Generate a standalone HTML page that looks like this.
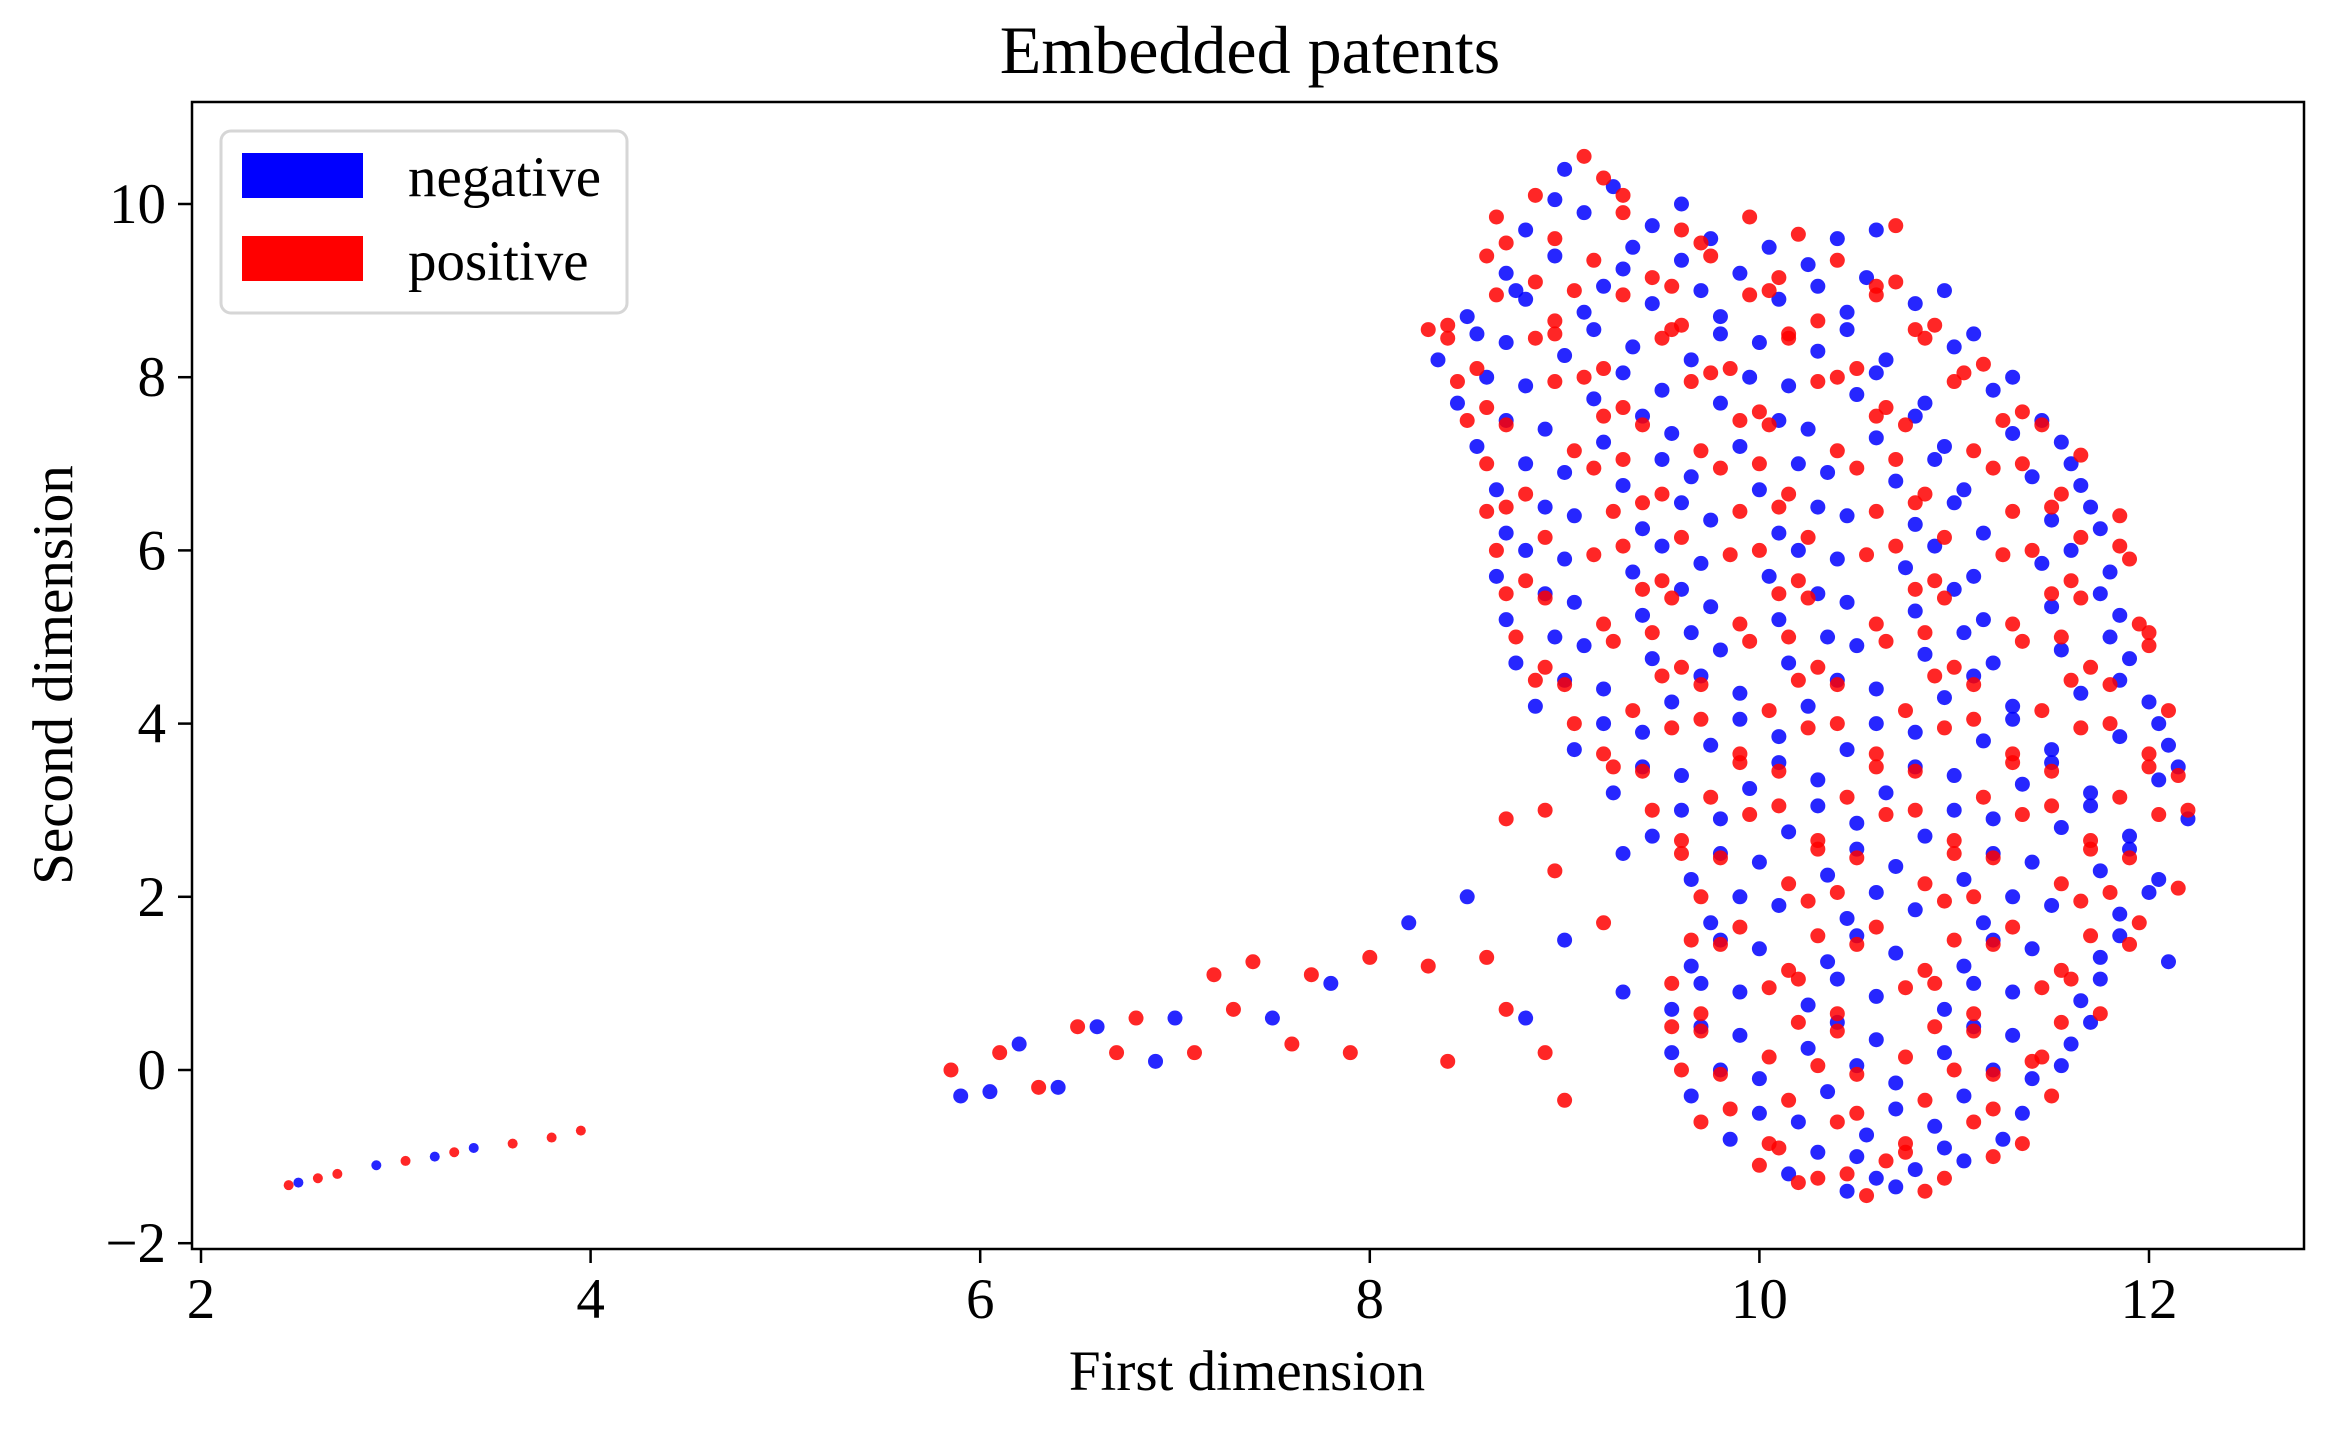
<!DOCTYPE html>
<html><head><meta charset="utf-8"><style>
html,body{margin:0;padding:0;background:#fff;}
svg{display:block;font-family:"Liberation Serif","DejaVu Serif",serif;}
</style></head><body>
<svg id="chart" width="2334" height="1433" viewBox="0 0 2334 1433">
<rect x="0" y="0" width="2334" height="1433" fill="#fff"/>
<text x="1250" y="73" font-size="68" text-anchor="middle">Embedded patents</text>
<g id="points"></g>
<rect x="192" y="102" width="2112" height="1147" fill="none" stroke="#000" stroke-width="2.5"/>
<g id="xticks"></g>
<g id="yticks"></g>
<text x="1247" y="1390" font-size="57" text-anchor="middle">First dimension</text>
<text x="0" y="0" font-size="57" text-anchor="middle" transform="translate(72,675) rotate(-90)">Second dimension</text>
<g>
<rect x="221" y="131" width="406" height="182" rx="10" fill="#fff" fill-opacity="0.8" stroke="#d6d6d6" stroke-width="3"/>
<rect x="242" y="153" width="121" height="45" fill="#0000ff"/>
<text x="408" y="196" font-size="57">negative</text>
<rect x="242" y="236" width="121" height="45" fill="#ff0000"/>
<text x="408" y="280" font-size="57">positive</text>
</g>
</svg>
<script>
const xTicks=[2,4,6,8,10,12];
const yTicks=[-2,0,2,4,6,8,10];
const negPts=[[9.0,10.4],[9.25,10.2],[8.8,9.7],[9.1,9.9],[9.45,9.75],[9.75,9.6],[10.6,9.7],
[8.7,9.2],[8.95,9.4],[9.3,9.25],[9.6,9.35],[9.9,9.2],[10.25,9.3],[10.55,9.15],
[8.5,8.7],[8.8,8.9],[9.1,8.75],[9.45,8.85],[9.8,8.7],[10.1,8.9],[10.45,8.75],[10.8,8.85],
[8.35,8.2],[8.7,8.4],[9.0,8.25],[9.35,8.35],[9.65,8.2],[10.0,8.4],[10.3,8.3],[10.65,8.2],[11.0,8.35],
[8.45,7.7],[8.8,7.9],[9.15,7.75],[9.5,7.85],[9.8,7.7],[10.15,7.9],[10.5,7.8],[10.85,7.7],[11.2,7.85],
[8.55,7.2],[8.9,7.4],[9.2,7.25],[9.55,7.35],[9.9,7.2],[10.25,7.4],[10.6,7.3],[10.95,7.2],[11.3,7.35],[11.55,7.25],
[8.65,6.7],[9.0,6.9],[9.3,6.75],[9.65,6.85],[10.0,6.7],[10.35,6.9],[10.7,6.8],[11.05,6.7],[11.4,6.85],[11.65,6.75],
[8.7,6.2],[9.05,6.4],[9.4,6.25],[9.75,6.35],[10.1,6.2],[10.45,6.4],[10.8,6.3],[11.15,6.2],[11.5,6.35],[11.75,6.25],
[8.65,5.7],[9.0,5.9],[9.35,5.75],[9.7,5.85],[10.05,5.7],[10.4,5.9],[10.75,5.8],[11.1,5.7],[11.45,5.85],[11.8,5.75],
[8.7,5.2],[9.05,5.4],[9.4,5.25],[9.75,5.35],[10.1,5.2],[10.45,5.4],[10.8,5.3],[11.15,5.2],[11.5,5.35],[11.85,5.25],
[8.75,4.7],[9.1,4.9],[9.45,4.75],[9.8,4.85],[10.15,4.7],[10.5,4.9],[10.85,4.8],[11.2,4.7],[11.55,4.85],[11.9,4.75],
[8.85,4.2],[9.2,4.4],[9.55,4.25],[9.9,4.35],[10.25,4.2],[10.6,4.4],[10.95,4.3],[11.3,4.2],[11.65,4.35],[12.0,4.25],
[9.05,3.7],[9.4,3.9],[9.75,3.75],[10.1,3.85],[10.45,3.7],[10.8,3.9],[11.15,3.8],[11.5,3.7],[11.85,3.85],[12.1,3.75],
[9.25,3.2],[9.6,3.4],[9.95,3.25],[10.3,3.35],[10.65,3.2],[11.0,3.4],[11.35,3.3],[11.7,3.2],[12.05,3.35],
[9.45,2.7],[9.8,2.9],[10.15,2.75],[10.5,2.85],[10.85,2.7],[11.2,2.9],[11.55,2.8],[11.9,2.7],[12.2,2.9],
[9.65,2.2],[10.0,2.4],[10.35,2.25],[10.7,2.35],[11.05,2.2],[11.4,2.4],[11.75,2.3],[12.05,2.2],
[9.75,1.7],[10.1,1.9],[10.45,1.75],[10.8,1.85],[11.15,1.7],[11.5,1.9],[11.85,1.8],
[9.65,1.2],[10.0,1.4],[10.35,1.25],[10.7,1.35],[11.05,1.2],[11.4,1.4],[11.75,1.3],[12.1,1.25],
[9.55,0.7],[9.9,0.9],[10.25,0.75],[10.6,0.85],[10.95,0.7],[11.3,0.9],[11.65,0.8],
[9.55,0.2],[9.9,0.4],[10.25,0.25],[10.6,0.35],[10.95,0.2],[11.3,0.4],[11.6,0.3],
[9.65,-0.3],[10.0,-0.1],[10.35,-0.25],[10.7,-0.15],[11.05,-0.3],[11.4,-0.1],
[9.85,-0.8],[10.2,-0.6],[10.55,-0.75],[10.9,-0.65],[11.25,-0.8],
[10.15,-1.2],[10.5,-1.0],[10.8,-1.15],[11.05,-1.05],[10.45,-1.4],[10.7,-1.35],
[8.95,10.05],[9.6,10.0],[9.35,9.5],[10.05,9.5],[10.4,9.6],[8.75,9.0],[9.2,9.05],[9.7,9.0],[10.3,9.05],[10.95,9.0],[8.55,8.5],[9.15,8.55],[9.8,8.5],[10.45,8.55],[11.1,8.5],[8.6,8.0],[9.3,8.05],[9.95,8.0],[10.6,8.05],[11.3,8.0],[8.7,7.5],[9.4,7.55],[10.1,7.5],[10.8,7.55],[11.45,7.5],[8.8,7.0],[9.5,7.05],[10.2,7.0],[10.9,7.05],[11.6,7.0],[8.9,6.5],[9.6,6.55],[10.3,6.5],[11.0,6.55],[11.7,6.5],[8.8,6.0],[9.5,6.05],[10.2,6.0],[10.9,6.05],[11.6,6.0],[8.9,5.5],[9.6,5.55],[10.3,5.5],[11.0,5.55],[11.75,5.5],[8.95,5.0],[9.65,5.05],[10.35,5.0],[11.05,5.05],[11.8,5.0],[9.0,4.5],[9.7,4.55],[10.4,4.5],[11.1,4.55],[11.85,4.5],[9.2,4.0],[9.9,4.05],[10.6,4.0],[11.3,4.05],[12.05,4.0],[9.4,3.5],[10.1,3.55],[10.8,3.5],[11.5,3.55],[12.15,3.5],[9.6,3.0],[10.3,3.05],[11.0,3.0],[11.7,3.05],[9.8,2.5],[10.5,2.55],[11.2,2.5],[11.9,2.55],[9.9,2.0],[10.6,2.05],[11.3,2.0],[12.0,2.05],[9.8,1.5],[10.5,1.55],[11.2,1.5],[11.85,1.55],[9.7,1.0],[10.4,1.05],[11.1,1.0],[11.75,1.05],[9.7,0.5],[10.4,0.55],[11.1,0.5],[11.7,0.55],[9.8,0.0],[10.5,0.05],[11.2,0.0],[11.55,0.05],[10.0,-0.5],[10.7,-0.45],[11.35,-0.5],[10.3,-0.95],[10.95,-0.9],[10.6,-1.25],
[9.3,2.5],[8.5,2.0],[8.2,1.7],[7.8,1.0],[7.5,0.6],[7.0,0.6],[6.6,0.5],[6.2,0.3],[5.9,-0.3],[6.05,-0.25],[6.4,-0.2],[6.9,0.1],[9.0,1.5],[8.8,0.6],[9.3,0.9],
[2.5,-1.3],[2.9,-1.1],[3.2,-1.0],[3.4,-0.9]];
const posPts=[[9.1,10.55],[9.2,10.3],[8.85,10.1],
[8.65,9.85],[8.95,9.6],[9.3,9.9],[9.6,9.7],[9.95,9.85],[10.7,9.75],
[8.6,9.4],[8.85,9.1],[9.15,9.35],[9.45,9.15],[9.75,9.4],[10.1,9.15],[10.4,9.35],[10.7,9.1],
[8.4,8.6],[8.65,8.95],[8.95,8.65],[9.3,8.95],[9.6,8.6],[9.95,8.95],[10.3,8.65],[10.6,8.95],[10.9,8.6],
[8.3,8.55],[8.55,8.1],[8.85,8.45],[9.2,8.1],[9.5,8.45],[9.85,8.1],[10.15,8.45],[10.5,8.1],[10.85,8.45],[11.15,8.15],
[8.6,7.65],[8.95,7.95],[9.3,7.65],[9.65,7.95],[10.0,7.6],[10.3,7.95],[10.65,7.65],[11.0,7.95],[11.35,7.6],
[8.7,7.45],[9.05,7.15],[9.4,7.45],[9.7,7.15],[10.05,7.45],[10.4,7.15],[10.75,7.45],[11.1,7.15],[11.45,7.45],[11.65,7.1],
[8.8,6.65],[9.15,6.95],[9.5,6.65],[9.8,6.95],[10.15,6.65],[10.5,6.95],[10.85,6.65],[11.2,6.95],[11.55,6.65],
[8.6,6.45],[8.9,6.15],[9.25,6.45],[9.6,6.15],[9.9,6.45],[10.25,6.15],[10.6,6.45],[10.95,6.15],[11.3,6.45],[11.65,6.15],[11.85,6.4],
[8.8,5.65],[9.15,5.95],[9.5,5.65],[9.85,5.95],[10.2,5.65],[10.55,5.95],[10.9,5.65],[11.25,5.95],[11.6,5.65],[11.9,5.9],
[8.9,5.45],[9.2,5.15],[9.55,5.45],[9.9,5.15],[10.25,5.45],[10.6,5.15],[10.95,5.45],[11.3,5.15],[11.65,5.45],[11.95,5.15],
[8.9,4.65],[9.25,4.95],[9.6,4.65],[9.95,4.95],[10.3,4.65],[10.65,4.95],[11.0,4.65],[11.35,4.95],[11.7,4.65],[12.0,4.9],
[9.0,4.45],[9.35,4.15],[9.7,4.45],[10.05,4.15],[10.4,4.45],[10.75,4.15],[11.1,4.45],[11.45,4.15],[11.8,4.45],[12.1,4.15],
[9.2,3.65],[9.55,3.95],[9.9,3.65],[10.25,3.95],[10.6,3.65],[10.95,3.95],[11.3,3.65],[11.65,3.95],[12.0,3.65],
[9.4,3.45],[9.75,3.15],[10.1,3.45],[10.45,3.15],[10.8,3.45],[11.15,3.15],[11.5,3.45],[11.85,3.15],[12.15,3.4],
[9.6,2.65],[9.95,2.95],[10.3,2.65],[10.65,2.95],[11.0,2.65],[11.35,2.95],[11.7,2.65],[12.05,2.95],
[9.8,2.45],[10.15,2.15],[10.5,2.45],[10.85,2.15],[11.2,2.45],[11.55,2.15],[11.9,2.45],[12.15,2.1],
[9.9,1.65],[10.25,1.95],[10.6,1.65],[10.95,1.95],[11.3,1.65],[11.65,1.95],[11.95,1.7],
[9.8,1.45],[10.15,1.15],[10.5,1.45],[10.85,1.15],[11.2,1.45],[11.55,1.15],[11.9,1.45],
[9.7,0.65],[10.05,0.95],[10.4,0.65],[10.75,0.95],[11.1,0.65],[11.45,0.95],[11.75,0.65],
[9.7,0.45],[10.05,0.15],[10.4,0.45],[10.75,0.15],[11.1,0.45],[11.45,0.15],
[9.8,-0.05],[10.15,-0.35],[10.5,-0.05],[10.85,-0.35],[11.2,-0.05],[11.5,-0.3],
[9.7,-0.6],[10.05,-0.85],[10.4,-0.6],[10.75,-0.85],[11.1,-0.6],[11.35,-0.85],
[10.0,-1.1],[10.3,-1.25],[10.65,-1.05],[10.95,-1.25],[10.55,-1.45],[10.85,-1.4],[10.2,-1.3],
[9.3,10.1],[8.7,9.55],[9.7,9.55],[10.2,9.65],[9.05,9.0],[9.55,9.05],[10.05,9.0],[10.6,9.05],[8.4,8.45],[8.95,8.5],[9.55,8.55],[10.15,8.5],[10.8,8.55],[8.45,7.95],[9.1,8.0],[9.75,8.05],[10.4,8.0],[11.05,8.05],[8.5,7.5],[9.2,7.55],[9.9,7.5],[10.6,7.55],[11.25,7.5],[8.6,7.0],[9.3,7.05],[10.0,7.0],[10.7,7.05],[11.35,7.0],[8.7,6.5],[9.4,6.55],[10.1,6.5],[10.8,6.55],[11.5,6.5],[8.65,6.0],[9.3,6.05],[10.0,6.0],[10.7,6.05],[11.4,6.0],[11.85,6.05],[8.7,5.5],[9.4,5.55],[10.1,5.5],[10.8,5.55],[11.5,5.5],[8.75,5.0],[9.45,5.05],[10.15,5.0],[10.85,5.05],[11.55,5.0],[12.0,5.05],[8.85,4.5],[9.5,4.55],[10.2,4.5],[10.9,4.55],[11.6,4.5],[9.05,4.0],[9.7,4.05],[10.4,4.0],[11.1,4.05],[11.8,4.0],[9.25,3.5],[9.9,3.55],[10.6,3.5],[11.3,3.55],[12.0,3.5],[9.45,3.0],[10.1,3.05],[10.8,3.0],[11.5,3.05],[12.2,3.0],[9.6,2.5],[10.3,2.55],[11.0,2.5],[11.7,2.55],[9.7,2.0],[10.4,2.05],[11.1,2.0],[11.8,2.05],[9.65,1.5],[10.3,1.55],[11.0,1.5],[11.7,1.55],[9.55,1.0],[10.2,1.05],[10.9,1.0],[11.6,1.05],[9.55,0.5],[10.2,0.55],[10.9,0.5],[11.55,0.55],[9.6,0.0],[10.3,0.05],[11.0,0.0],[11.4,0.1],[9.85,-0.45],[10.5,-0.5],[11.2,-0.45],[10.1,-0.9],[10.75,-0.95],[11.2,-1.0],[10.45,-1.2],
[8.7,2.9],[8.9,3.0],[8.95,2.3],[9.2,1.7],[8.6,1.3],[8.3,1.2],[8.0,1.3],[7.7,1.1],[7.4,1.25],[7.2,1.1],[7.6,0.3],[7.9,0.2],[8.4,0.1],[8.9,0.2],[7.3,0.7],[6.8,0.6],[6.5,0.5],[6.1,0.2],[5.85,0.0],[6.3,-0.2],[6.7,0.2],[9.0,-0.35],[8.7,0.7],[7.1,0.2],
[2.45,-1.33],[2.6,-1.25],[2.7,-1.2],[3.05,-1.05],[3.3,-0.95],[3.6,-0.85],[3.8,-0.78],[3.95,-0.7]];
const NS='http://www.w3.org/2000/svg';
function sx(v){return 201+(v-2)*194.8;}
function sy(v){return 1070-v*86.6;}
const pts=document.getElementById('points');
function drawSeries(arr,color,name,r){
  const g=document.createElementNS(NS,'g');
  
  
  for(const p of arr){
    const c=document.createElementNS(NS,'circle');
    const inLine=p[0]<4.5;
    c.setAttribute('cx',sx(p[0]));c.setAttribute('cy',sy(p[1]));c.setAttribute('r',inLine?5:r);
    c.setAttribute('fill',color);c.setAttribute('fill-opacity','0.85');
    
    
    g.appendChild(c);
  }
  pts.appendChild(g);
}
drawSeries(negPts,'#0000ff','negative-series',7.5);
drawSeries(posPts,'#ff0000','positive-series',7.5);
const xg=document.getElementById('xticks');
for(const t of xTicks){
  const l=document.createElementNS(NS,'line');
  l.setAttribute('x1',sx(t));l.setAttribute('x2',sx(t));l.setAttribute('y1',1249);l.setAttribute('y2',1263);
  l.setAttribute('stroke','#000');l.setAttribute('stroke-width','2.5');
  
  
  xg.appendChild(l);
  const tx=document.createElementNS(NS,'text');
  tx.setAttribute('x',sx(t));tx.setAttribute('y',1318);tx.setAttribute('font-size','57');tx.setAttribute('text-anchor','middle');
  tx.textContent=String(t);
  
  
  xg.appendChild(tx);
}
const yg=document.getElementById('yticks');
for(const t of yTicks){
  const l=document.createElementNS(NS,'line');
  l.setAttribute('x1',178);l.setAttribute('x2',192);l.setAttribute('y1',sy(t));l.setAttribute('y2',sy(t));
  l.setAttribute('stroke','#000');l.setAttribute('stroke-width','2.5');
  
  
  yg.appendChild(l);
  const tx=document.createElementNS(NS,'text');
  tx.setAttribute('x',166);tx.setAttribute('y',sy(t)+19);tx.setAttribute('font-size','57');tx.setAttribute('text-anchor','end');
  tx.textContent=t<0?'\u2212'+Math.abs(t):String(t);
  
  
  yg.appendChild(tx);
}
</script>
</body></html>
